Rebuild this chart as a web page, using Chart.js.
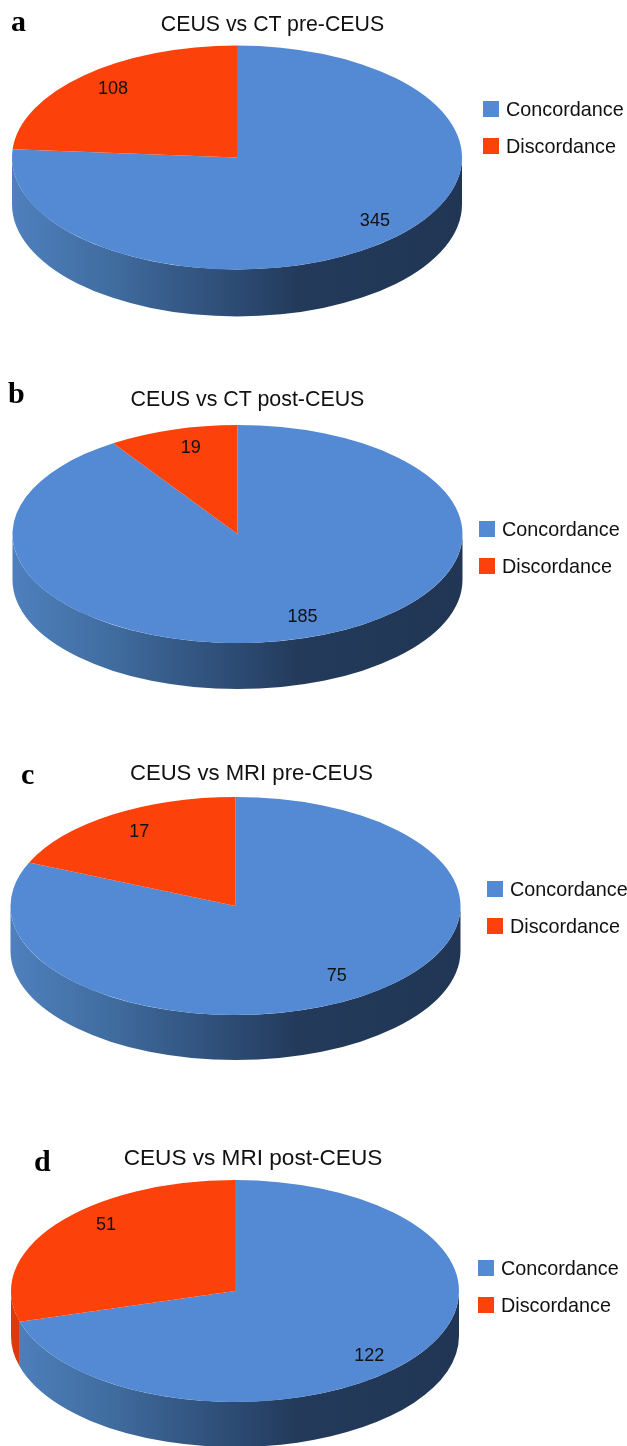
<!DOCTYPE html>
<html>
<head>
<meta charset="utf-8">
<title>CEUS concordance</title>
<script src="https://cdn.jsdelivr.net/npm/chart.js@4/dist/chart.umd.min.js"></script>
<style>
  html, body { margin: 0; padding: 0; background: #fff; }
  #page { position: relative; width: 627px; height: 1446px; overflow: hidden; font-family: "Liberation Sans", Arial, sans-serif; color: #111; }
  #page canvas { position: absolute; left: 0; }
  .title, .item, .letter { position: absolute; white-space: nowrap; line-height: 24px; }
  .title { transform: translateX(-50%); }
  .item { font-size: 19.8px; }
  .swatch { position: absolute; width: 16px; height: 16px; }
  .letter { font: bold 30px/30px "Liberation Serif", "Times New Roman", serif; color: #000; }
</style>
</head>
<body>
<div id="page"></div>
<script>
const categories = ['Concordance', 'Discordance'];
const panelLetters = ['a', 'b', 'c', 'd'];
const panelTitles = ['CEUS vs CT pre-CEUS', 'CEUS vs CT post-CEUS', 'CEUS vs MRI pre-CEUS', 'CEUS vs MRI post-CEUS'];
const concordance = [345, 185, 75, 122];
const discordance = [108, 19, 17, 51];

const TOP_COLORS = ['#548ad4', '#fc410a'];
const SIDE_RED = '#da3a0c';

// where each pie and its captions sit on the page
const layouts = [
  { top: 0, height: 340, cx: 237, cy: 157.5, rx: 225, ry: 112, depth: 47, reach: [[0.9, 0.78], [0.81, 0.83]],
    titleX: 272.5, titleY: 24, titleSize: 21.3, letterX: 11, letterY: 6, legendX: 483, legendY: [109, 146] },
  { top: 370, height: 330, cx: 237.5, cy: 534, rx: 225, ry: 109, depth: 46, reach: [[1, 0.8], [0.72, 0.82]],
    titleX: 247.5, titleY: 399, titleSize: 21.4, letterX: 8, letterY: 378, legendX: 479, legendY: [529, 566] },
  { top: 750, height: 320, cx: 235.5, cy: 906, rx: 225, ry: 109, depth: 45, reach: [[0.82, 0.77], [0.78, 0.81]],
    titleX: 251.5, titleY: 773, titleSize: 22.1, letterX: 21, letterY: 759, legendX: 487, legendY: [889, 926] },
  { top: 1140, height: 306, cx: 235, cy: 1291, rx: 224, ry: 111, depth: 45, reach: [[0.75, 0.98], [0.72, 0.99]],
    titleX: 253, titleY: 1158, titleSize: 22.6, letterX: 34, letterY: 1146, legendX: 478, legendY: [1268, 1305] }
];

const page = document.getElementById('page');

function addText(className, text, left, top) {
  const el = document.createElement('div');
  el.className = className;
  el.textContent = text;
  el.style.left = left + 'px';
  el.style.top = top + 'px';
  page.appendChild(el);
  return el;
}

function sideGradient(ctx, arc) {
  const g = ctx.createLinearGradient(arc.x - arc.outerRadius, 0, arc.x + arc.outerRadius, 0);
  g.addColorStop(0, '#4f80bd');
  g.addColorStop(0.218, '#406da0');
  g.addColorStop(0.35, '#375c8a');
  g.addColorStop(0.5, '#2c4b73');
  g.addColorStop(0.64, '#233a5a');
  g.addColorStop(1, '#213655');
  return g;
}

// tilts the flat pie and draws the rim below its front half
const tiltedPie = {
  id: 'tiltedPie',
  beforeDatasetDraw(chart) {
    const { ctx } = chart;
    const { ry, depth } = chart.options.plugins.tiltedPie;
    const arcs = chart.getDatasetMeta(0).data;
    ctx.save();
    arcs.forEach((arc, i) => {
      const from = Math.max(arc.startAngle, 0);
      const to = Math.min(arc.endAngle, Math.PI);
      if (from >= to) return;
      ctx.beginPath();
      ctx.ellipse(arc.x, arc.y, arc.outerRadius, ry, 0, from, to);
      ctx.ellipse(arc.x, arc.y + depth, arc.outerRadius, ry, 0, to, from, true);
      ctx.closePath();
      ctx.fillStyle = i === 0 ? sideGradient(ctx, arc) : SIDE_RED;
      ctx.fill();
    });
    const first = arcs[0];
    ctx.translate(first.x, first.y);
    ctx.scale(1, ry / first.outerRadius);
    ctx.translate(-first.x, -first.y);
  },
  afterDatasetDraw(chart) {
    const { ctx } = chart;
    const { ry, reach } = chart.options.plugins.tiltedPie;
    ctx.restore();
    ctx.save();
    ctx.font = '18px "Liberation Sans", Arial, sans-serif';
    ctx.fillStyle = '#111';
    ctx.textAlign = 'center';
    ctx.textBaseline = 'middle';
    chart.getDatasetMeta(0).data.forEach((arc, i) => {
      const mid = (arc.startAngle + arc.endAngle) / 2;
      const x = arc.x + Math.cos(mid) * reach[i][0] * arc.outerRadius;
      const y = arc.y + Math.sin(mid) * reach[i][1] * ry;
      ctx.fillText(chart.data.datasets[0].data[i], x, y);
    });
    ctx.restore();
  }
};

layouts.forEach((l, p) => {
  const canvas = document.createElement('canvas');
  canvas.width = 627;
  canvas.height = l.height;
  canvas.style.top = l.top + 'px';
  page.appendChild(canvas);

  const centerY = 2 * (l.cy - l.top) - l.height;

  new Chart(canvas, {
    type: 'pie',
    data: {
      labels: categories,
      datasets: [{
        data: [concordance[p], discordance[p]],
        backgroundColor: TOP_COLORS,
        borderWidth: 0,
        clip: false
      }]
    },
    options: {
      responsive: false,
      animation: false,
      radius: l.rx,
      layout: {
        padding: {
          left: 0,
          right: 627 - 2 * l.cx,
          top: Math.max(centerY, 0),
          bottom: Math.max(-centerY, 0)
        }
      },
      plugins: {
        legend: { display: false },
        tooltip: { enabled: false },
        tiltedPie: { ry: l.ry, depth: l.depth, reach: l.reach }
      }
    },
    plugins: [tiltedPie]
  });

  addText('letter', panelLetters[p], l.letterX, l.letterY);
  addText('title', panelTitles[p], l.titleX, l.titleY - 12).style.fontSize = l.titleSize + 'px';
  categories.forEach((name, i) => {
    const swatch = document.createElement('div');
    swatch.className = 'swatch';
    swatch.style.left = l.legendX + 'px';
    swatch.style.top = (l.legendY[i] - 8) + 'px';
    swatch.style.background = TOP_COLORS[i];
    page.appendChild(swatch);
    addText('item', name, l.legendX + 23, l.legendY[i] - 12);
  });
});
</script>
</body>
</html>
